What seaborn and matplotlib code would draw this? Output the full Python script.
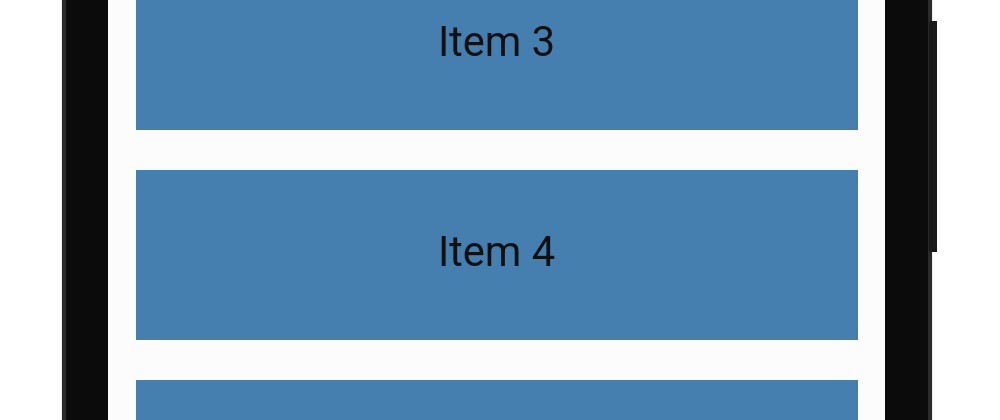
import matplotlib
matplotlib.use('Agg')
import matplotlib.pyplot as plt
import matplotlib.patches as mpatches
import seaborn as sns
import pandas as pd

# list items visible on the phone screen
items = ['Item 3', 'Item 4', 'Item 5']
widths = [1, 1, 1]

df = pd.DataFrame({'item': items, 'w': widths})

fig = plt.figure(figsize=(10, 4.2), dpi=100)
fig.patch.set_facecolor('white')

# phone body and screen drawn in a background axes
bg = fig.add_axes([0, 0, 1, 1], zorder=-1)
bg.set_xlim(0, 1)
bg.set_ylim(0, 1)
bg.axis('off')
bg.add_patch(mpatches.FancyBboxPatch((0.064, -0.05), 0.866, 1.1, boxstyle='round,pad=0,rounding_size=0.03',
                                     facecolor='#0b0b0b', edgecolor='#2a2a2a', lw=3))
bg.add_patch(mpatches.Rectangle((0.929, 0.40), 0.008, 0.55, facecolor='#1a1a1a', edgecolor='none'))
bg.add_patch(mpatches.Rectangle((0.108, 0), 0.777, 1, facecolor='#fcfcfd', edgecolor='none'))

ax = fig.add_axes([0.136, 0, 0.722, 1], zorder=1)
sns.barplot(data=df, x='w', y='item', orient='h', color='#447fb0', saturation=1, width=0.81, ax=ax)
ax.set_xlim(0, 1)
ax.set_ylim(420 / 210 - 45 / 210, -45 / 210)
ax.axis('off')

for i, name in enumerate(items[:2]):
    ax.text(0.5, i, name, ha='center', va='center', fontsize=30, color='#111111',
            family=['Roboto', 'DejaVu Sans'], clip_on=True)

fig.savefig('out.png', dpi=100)
